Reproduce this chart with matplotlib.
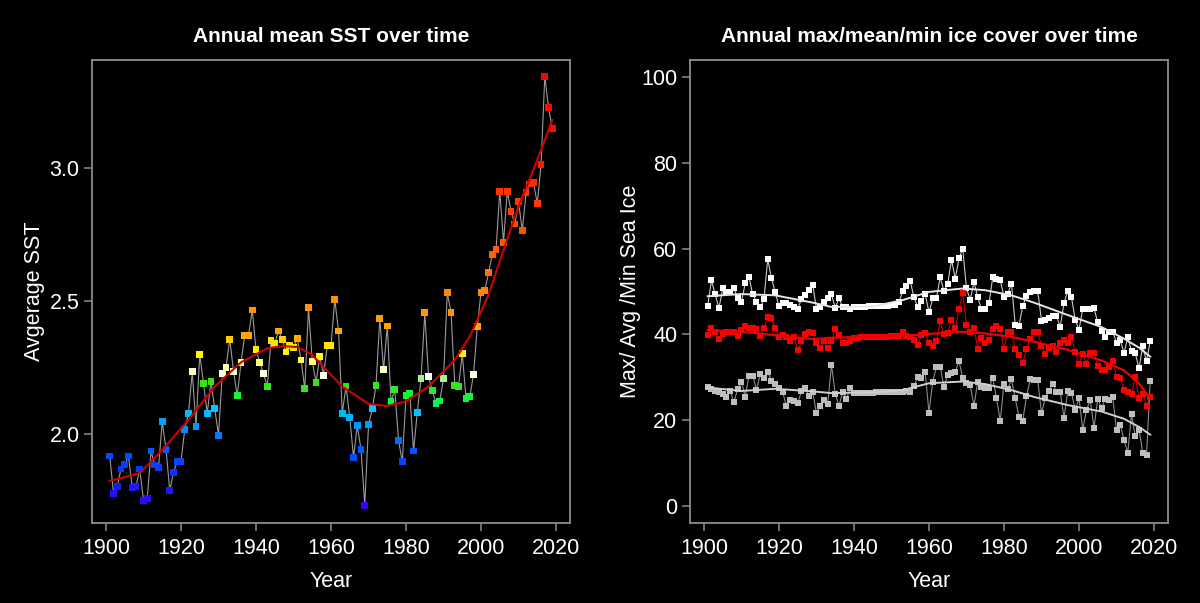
import numpy as np
import matplotlib

matplotlib.use("Agg")
import matplotlib.pyplot as plt
from matplotlib.colors import LinearSegmentedColormap

plt.rcParams["font.family"] = ["Liberation Sans", "DejaVu Sans"]

# ---------------- data ----------------
years = list(range(1901, 2020))

sst = [
    1.917, 1.777, 1.802, 1.868, 1.886, 1.917, 1.797, 1.802, 1.868, 1.749,
    1.758, 1.936, 1.883, 1.873, 2.046, 1.942, 1.787, 1.856, 1.897, 1.897,
    2.017, 2.078, 2.234, 2.029, 2.299, 2.191, 2.078, 2.197, 2.095, 1.995,
    2.226, 2.251, 2.356, 2.236, 2.143, 2.269, 2.370, 2.370, 2.466, 2.316,
    2.268, 2.226, 2.178, 2.350, 2.341, 2.387, 2.355, 2.308, 2.332, 2.326,
    2.358, 2.278, 2.170, 2.474, 2.273, 2.193, 2.292, 2.221, 2.331, 2.331,
    2.506, 2.387, 2.078, 2.180, 2.061, 1.912, 2.031, 1.941, 1.732, 2.034,
    2.094, 2.183, 2.434, 2.241, 2.406, 2.122, 2.167, 1.976, 1.895, 2.143,
    2.153, 1.936, 2.081, 2.207, 2.455, 2.216, 2.163, 2.115, 2.124, 2.209,
    2.531, 2.457, 2.183, 2.178, 2.302, 2.133, 2.140, 2.224, 2.403, 2.533,
    2.539, 2.606, 2.674, 2.693, 2.912, 2.721, 2.912, 2.837, 2.789, 2.873,
    2.764, 2.907, 2.940, 2.945, 2.865, 3.012, 3.345, 3.226, 3.149,
]

# smooth trend
sst_fit_years = [1901, 1909, 1915, 1922, 1929, 1936, 1943, 1947, 1951, 1955, 1957,
                 1963, 1970, 1975, 1980, 1986, 1993, 1997, 2002, 2006, 2010, 2015, 2019]
sst_fit = [1.823, 1.852, 1.940, 2.053, 2.178, 2.269, 2.322, 2.330, 2.327, 2.297, 2.266,
           2.178, 2.113, 2.105, 2.122, 2.178, 2.278, 2.366, 2.523, 2.692, 2.855, 3.030, 3.180]

ice_max = [
    46.6, 52.6, 49.3, 46.1, 50.7, 49.8, 49.8, 50.7, 48.4, 47.6,
    51.9, 53.4, 49.3, 47.6, 46.3, 48.2, 57.5, 53.2, 49.8, 46.5,
    47.4, 47.2, 46.8, 46.4, 46.0, 48.2, 49.1, 50.3, 51.6, 45.9,
    46.4, 47.6, 48.4, 49.3, 46.2, 48.4, 46.4, 46.4, 45.9, 46.4,
    46.3, 46.4, 46.4, 46.5, 46.5, 46.6, 46.6, 46.7, 46.7, 46.8,
    46.9, 47.5, 50.1, 51.2, 52.4, 48.7, 46.3, 47.8, 49.4, 45.1,
    48.4, 48.5, 53.4, 50.0, 51.8, 57.4, 53.0, 57.7, 60.0, 50.7,
    48.1, 52.2, 48.7, 45.8, 46.0, 47.2, 53.3, 53.0, 52.7, 48.7,
    49.5, 51.8, 42.2, 42.0, 46.6, 48.9, 49.9, 50.1, 50.1, 43.2,
    43.4, 43.8, 44.2, 44.2, 41.8, 47.3, 50.1, 48.7, 43.3, 41.1,
    45.9, 45.9, 46.0, 46.1, 42.8, 40.8, 39.5, 40.5, 40.6, 38.1,
    38.7, 35.6, 39.3, 36.1, 35.6, 32.1, 37.3, 33.7, 38.5,
]

ice_mean = [
    39.8, 41.5, 40.6, 38.9, 40.0, 40.5, 40.6, 40.6, 39.6, 41.0,
    42.0, 41.5, 41.4, 41.2, 39.7, 41.4, 44.1, 43.7, 41.6, 39.4,
    39.8, 39.4, 38.4, 39.4, 36.3, 38.4, 40.2, 40.5, 40.3, 38.1,
    36.9, 38.4, 36.9, 38.4, 41.2, 39.8, 37.9, 37.9, 38.5, 39.2,
    39.2, 39.3, 39.3, 39.3, 39.4, 39.4, 39.4, 39.5, 39.5, 39.6,
    39.6, 39.7, 40.6, 39.6, 39.3, 38.7, 37.5, 39.9, 40.3, 38.0,
    37.3, 38.5, 43.0, 40.0, 40.3, 43.4, 41.4, 46.0, 49.6, 42.1,
    40.5, 41.6, 36.7, 39.1, 38.0, 38.6, 41.2, 41.9, 41.2, 36.6,
    40.5, 40.6, 36.5, 35.2, 33.4, 36.6, 39.0, 40.6, 40.5, 37.4,
    35.5, 36.9, 37.3, 35.8, 38.0, 38.8, 38.0, 39.3, 35.8, 33.2,
    35.5, 33.2, 35.7, 35.6, 32.7, 31.6, 31.6, 32.3, 33.8, 30.1,
    29.9, 27.1, 26.6, 26.1, 30.1, 25.1, 26.1, 23.4, 25.5,
]

ice_min = [
    27.8, 27.3, 26.8, 26.5, 26.0, 25.4, 26.8, 24.2, 27.3, 29.0,
    25.4, 30.4, 30.4, 27.1, 30.7, 29.9, 31.3, 29.2, 28.4, 27.4,
    26.5, 23.2, 24.6, 24.4, 24.0, 26.7, 27.6, 25.7, 26.5, 21.6,
    23.2, 24.7, 23.7, 32.9, 26.2, 23.3, 26.6, 25.0, 27.4, 26.3,
    26.3, 26.3, 26.4, 26.4, 26.4, 26.5, 26.5, 26.5, 26.6, 26.6,
    26.6, 26.6, 26.6, 26.8, 26.5, 28.0, 30.0, 29.9, 31.2, 21.7,
    29.0, 32.5, 32.5, 27.7, 30.6, 31.0, 31.2, 33.8, 29.8, 28.6,
    28.1, 23.3, 29.0, 27.8, 27.4, 27.4, 29.9, 25.1, 19.8, 28.5,
    27.3, 29.5, 25.1, 20.7, 19.8, 25.6, 29.5, 29.3, 29.3, 21.6,
    25.1, 26.9, 28.5, 26.6, 26.6, 20.5, 26.7, 26.4, 22.3, 25.1,
    17.8, 22.4, 24.7, 18.2, 25.0, 22.8, 24.9, 24.6, 25.4, 17.6,
    18.9, 15.4, 12.4, 21.4, 16.2, 17.8, 12.4, 11.9, 29.2,
]

ice_fit_years = [1901, 1910, 1919, 1929, 1934, 1945, 1953, 1960, 1969, 1975,
                 1982, 1988, 1997, 2006, 2012, 2016, 2019]
ice_max_fit = [48.9, 49.4, 49.1, 47.4, 46.4, 46.5, 48.0, 49.9, 50.7, 50.3,
               49.1, 47.4, 44.5, 41.7, 39.0, 36.9, 34.8]
ice_mean_fit = [41.0, 40.6, 39.8, 38.9, 39.2, 39.5, 39.6, 40.1, 40.6, 40.2,
                39.4, 38.3, 36.4, 33.9, 31.6, 28.6, 25.0]
ice_min_fit = [27.6, 26.8, 27.3, 26.7, 26.3, 26.5, 27.0, 28.6, 29.0, 28.4,
               27.0, 25.4, 23.5, 22.0, 20.3, 18.4, 16.6]

# colour ramp for the SST points (by value)
ramp = [(1.73, "#3a00ff"), (1.80, "#1a1aff"), (1.92, "#0050ff"), (2.00, "#0080ff"),
        (2.05, "#00aaff"), (2.10, "#00ccff"), (2.115, "#00ff44"), (2.20, "#44dd11"),
        (2.212, "#ffffff"), (2.24, "#ffffc0"), (2.27, "#ffff70"), (2.29, "#ffff00"),
        (2.35, "#ffdd00"), (2.36, "#ffaa00"), (2.50, "#ff9000"), (2.62, "#ff7000"),
        (2.78, "#ff5000"), (2.92, "#ff3000"), (3.05, "#ff1000"), (3.35, "#ff0000")]

FG = "white"
BOX = "#8c8c8c"

lo, hi = ramp[0][0], ramp[-1][0]
cmap = LinearSegmentedColormap.from_list(
    "sst", [((v - lo) / (hi - lo), c) for v, c in ramp])
sst_cols = [cmap(min(max((v - lo) / (hi - lo), 0), 1)) for v in sst]

fig = plt.figure(figsize=(12, 6.03), dpi=100, facecolor="black")
ax1 = fig.add_axes([0.0767, 0.1327, 0.3983, 0.7678])
ax2 = fig.add_axes([0.575, 0.1327, 0.3983, 0.7678])


def style(ax):
    ax.set_facecolor("black")
    for s in ax.spines.values():
        s.set_color(BOX)
        s.set_linewidth(1.3)
    ax.tick_params(colors=BOX, labelcolor=FG, labelsize=15.5, length=6, width=1.1,
                   direction="out", pad=3)
    ax.tick_params(axis="x", pad=5)
    ax.set_xlim(1896.28, 2023.72)
    ax.set_xticks(range(1900, 2021, 20))


# ---------- LEFT: SST ----------
style(ax1)
ax1.plot(years, sst, color="#9a9a9a", lw=0.8, zorder=1)
ax1.scatter(years, sst, c=sst_cols, marker="s", s=24, linewidths=0, zorder=2)
ax1.plot(sst_fit_years, sst_fit, color="#d00000", lw=1.5, zorder=3)
ax1.set_ylim(1.665, 3.406)
ax1.set_yticks([2.0, 2.5, 3.0])
ax1.set_yticklabels(["2.0", "2.5", "3.0"])
ax1.set_title("Annual mean SST over time", color=FG, fontsize=15, fontweight="bold", pad=13)
ax1.set_xlabel("Year", color=FG, fontsize=15.5)
ax1.set_ylabel("Avgerage SST", color=FG, fontsize=15.5)
ax1.xaxis.set_label_coords(0.5, -0.127)
ax1.yaxis.set_label_coords(-0.12, 0.5)

# ---------- RIGHT: ice cover ----------
style(ax2)
ax2.plot(years, ice_max, color="#c8c8c8", lw=0.8, zorder=1)
ax2.plot(years, ice_max, ls="none", marker="s", ms=4.5, mew=0, color="white", zorder=2)
ax2.plot(years, ice_mean, color="#cc0000", lw=0.8, zorder=1)
ax2.plot(years, ice_mean, ls="none", marker="s", ms=4.5, mew=0, color="#ff0000", zorder=2)
ax2.plot(years, ice_min, color="#8a8a8a", lw=0.8, zorder=1)
ax2.plot(years, ice_min, ls="none", marker="s", ms=4.5, mew=0, color="#bebebe", zorder=2)
ax2.plot(ice_fit_years, ice_max_fit, color="#e6e6e6", lw=1.4, zorder=3)
ax2.plot(ice_fit_years, ice_mean_fit, color="#ee0000", lw=1.6, zorder=3)
ax2.plot(ice_fit_years, ice_min_fit, color="#cfcfcf", lw=1.4, zorder=3)
ax2.set_ylim(-4, 104)
ax2.set_yticks(range(0, 101, 20))
ax2.set_title("Annual max/mean/min ice cover over time", color=FG, fontsize=15,
              fontweight="bold", pad=13)
ax2.set_xlabel("Year", color=FG, fontsize=15.5)
ax2.set_ylabel("Max/ Avg /Min Sea Ice", color=FG, fontsize=15.5)
ax2.xaxis.set_label_coords(0.5, -0.127)
ax2.yaxis.set_label_coords(-0.125, 0.5)
for ax in (ax1, ax2):
    ax.xaxis.label.set_va("center")
    ax.yaxis.label.set_va("center")

fig.savefig("out.png", dpi=100, facecolor="black")
